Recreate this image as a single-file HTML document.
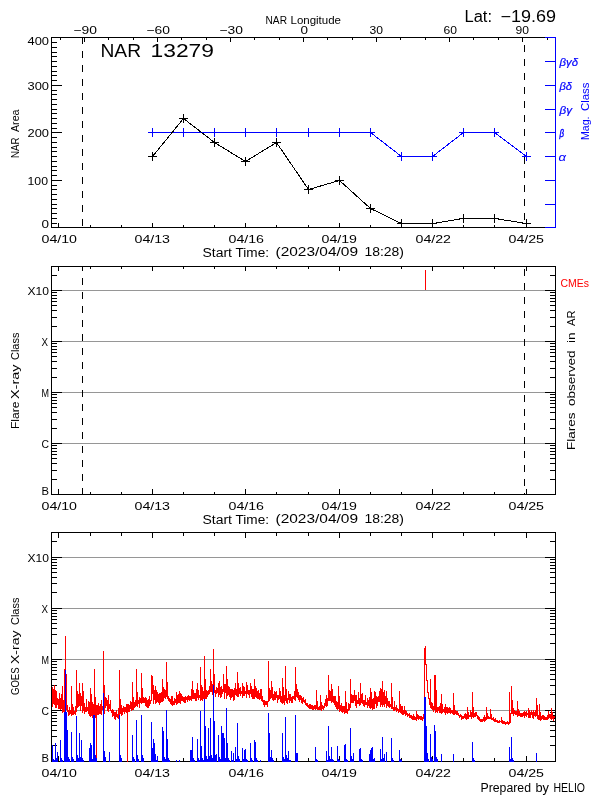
<!DOCTYPE html><html><head><meta charset="utf-8"><style>html,body{margin:0;padding:0;background:#fff;}svg{display:block}text{font-family:"Liberation Sans",Arial,sans-serif;}</style></head><body>
<svg width="600" height="800" viewBox="0 0 600 800">
<rect width="600" height="800" fill="#fff"/>
<path fill="#969696" shape-rendering="crispEdges" d="M62 443h483v1h-483zM62 392h483v1h-483zM62 341h483v1h-483zM62 290h483v1h-483zM62 710h483v1h-483zM62 659h483v1h-483zM62 608h483v1h-483zM62 557h483v1h-483z"/>
<path fill="#000" shape-rendering="crispEdges" d="M51 37h505v1h-505zM51 227h505v1h-505zM51 37h1v191h-1zM51 266h505v1h-505zM51 494h505v1h-505zM51 266h1v229h-1zM555 266h1v229h-1zM51 532h505v1h-505zM51 761h505v1h-505zM51 532h1v230h-1zM555 532h1v230h-1zM58 223h1v4h-1zM90 225h1v2h-1zM121 225h1v2h-1zM152 223h1v4h-1zM183 225h1v2h-1zM214 225h1v2h-1zM245 223h1v4h-1zM276 225h1v2h-1zM308 225h1v2h-1zM339 223h1v4h-1zM370 225h1v2h-1zM401 225h1v2h-1zM432 223h1v4h-1zM463 225h1v2h-1zM494 225h1v2h-1zM526 223h1v4h-1zM58 489h1v5h-1zM58 267h1v4h-1zM90 492h1v2h-1zM90 267h1v2h-1zM121 492h1v2h-1zM121 267h1v2h-1zM152 489h1v5h-1zM152 267h1v4h-1zM183 492h1v2h-1zM183 267h1v2h-1zM214 492h1v2h-1zM214 267h1v2h-1zM245 489h1v5h-1zM245 267h1v4h-1zM276 492h1v2h-1zM276 267h1v2h-1zM308 492h1v2h-1zM308 267h1v2h-1zM339 489h1v5h-1zM339 267h1v4h-1zM370 492h1v2h-1zM370 267h1v2h-1zM401 492h1v2h-1zM401 267h1v2h-1zM432 489h1v5h-1zM432 267h1v4h-1zM463 492h1v2h-1zM463 267h1v2h-1zM494 492h1v2h-1zM494 267h1v2h-1zM526 489h1v5h-1zM526 267h1v4h-1zM58 756h1v5h-1zM58 533h1v5h-1zM90 758h1v3h-1zM90 533h1v3h-1zM121 758h1v3h-1zM121 533h1v3h-1zM152 756h1v5h-1zM152 533h1v5h-1zM183 758h1v3h-1zM183 533h1v3h-1zM214 758h1v3h-1zM214 533h1v3h-1zM245 756h1v5h-1zM245 533h1v5h-1zM276 758h1v3h-1zM276 533h1v3h-1zM308 758h1v3h-1zM308 533h1v3h-1zM339 756h1v5h-1zM339 533h1v5h-1zM370 758h1v3h-1zM370 533h1v3h-1zM401 758h1v3h-1zM401 533h1v3h-1zM432 756h1v5h-1zM432 533h1v5h-1zM463 758h1v3h-1zM463 533h1v3h-1zM494 758h1v3h-1zM494 533h1v3h-1zM526 756h1v5h-1zM526 533h1v5h-1zM60 38h1v2h-1zM84 38h1v4h-1zM108 38h1v2h-1zM133 38h1v2h-1zM157 38h1v4h-1zM181 38h1v2h-1zM206 38h1v2h-1zM230 38h1v4h-1zM254 38h1v2h-1zM279 38h1v2h-1zM303 38h1v4h-1zM327 38h1v2h-1zM352 38h1v2h-1zM376 38h1v4h-1zM400 38h1v2h-1zM425 38h1v2h-1zM449 38h1v4h-1zM473 38h1v2h-1zM498 38h1v2h-1zM522 38h1v4h-1zM51 223h6v1h-6zM51 218h6v1h-6zM51 213h6v1h-6zM51 208h6v1h-6zM51 204h6v1h-6zM51 199h6v1h-6zM51 194h6v1h-6zM51 189h6v1h-6zM51 185h6v1h-6zM51 180h11v1h-11zM51 175h6v1h-6zM51 170h6v1h-6zM51 166h6v1h-6zM51 161h6v1h-6zM51 156h6v1h-6zM51 151h6v1h-6zM51 147h6v1h-6zM51 142h6v1h-6zM51 137h6v1h-6zM51 132h11v1h-11zM51 128h6v1h-6zM51 123h6v1h-6zM51 118h6v1h-6zM51 113h6v1h-6zM51 109h6v1h-6zM51 104h6v1h-6zM51 99h6v1h-6zM51 94h6v1h-6zM51 90h6v1h-6zM51 85h11v1h-11zM51 80h6v1h-6zM51 75h6v1h-6zM51 71h6v1h-6zM51 66h6v1h-6zM51 61h6v1h-6zM51 56h6v1h-6zM51 52h6v1h-6zM51 47h6v1h-6zM51 42h6v1h-6zM51 479h6v1h-6zM550 479h6v1h-6zM51 470h6v1h-6zM550 470h6v1h-6zM51 463h6v1h-6zM550 463h6v1h-6zM51 458h6v1h-6zM550 458h6v1h-6zM51 454h6v1h-6zM550 454h6v1h-6zM51 451h6v1h-6zM550 451h6v1h-6zM51 448h6v1h-6zM550 448h6v1h-6zM51 445h6v1h-6zM550 445h6v1h-6zM51 428h6v1h-6zM550 428h6v1h-6zM51 419h6v1h-6zM550 419h6v1h-6zM51 412h6v1h-6zM550 412h6v1h-6zM51 407h6v1h-6zM550 407h6v1h-6zM51 403h6v1h-6zM550 403h6v1h-6zM51 400h6v1h-6zM550 400h6v1h-6zM51 397h6v1h-6zM550 397h6v1h-6zM51 394h6v1h-6zM550 394h6v1h-6zM51 443h11v1h-11zM545 443h11v1h-11zM51 377h6v1h-6zM550 377h6v1h-6zM51 368h6v1h-6zM550 368h6v1h-6zM51 361h6v1h-6zM550 361h6v1h-6zM51 356h6v1h-6zM550 356h6v1h-6zM51 352h6v1h-6zM550 352h6v1h-6zM51 349h6v1h-6zM550 349h6v1h-6zM51 346h6v1h-6zM550 346h6v1h-6zM51 343h6v1h-6zM550 343h6v1h-6zM51 392h11v1h-11zM545 392h11v1h-11zM51 326h6v1h-6zM550 326h6v1h-6zM51 317h6v1h-6zM550 317h6v1h-6zM51 310h6v1h-6zM550 310h6v1h-6zM51 305h6v1h-6zM550 305h6v1h-6zM51 301h6v1h-6zM550 301h6v1h-6zM51 298h6v1h-6zM550 298h6v1h-6zM51 295h6v1h-6zM550 295h6v1h-6zM51 292h6v1h-6zM550 292h6v1h-6zM51 341h11v1h-11zM545 341h11v1h-11zM51 275h6v1h-6zM550 275h6v1h-6zM51 290h11v1h-11zM545 290h11v1h-11zM51 745h6v1h-6zM550 745h6v1h-6zM51 736h6v1h-6zM550 736h6v1h-6zM51 730h6v1h-6zM550 730h6v1h-6zM51 725h6v1h-6zM550 725h6v1h-6zM51 721h6v1h-6zM550 721h6v1h-6zM51 718h6v1h-6zM550 718h6v1h-6zM51 715h6v1h-6zM550 715h6v1h-6zM51 712h6v1h-6zM550 712h6v1h-6zM51 694h6v1h-6zM550 694h6v1h-6zM51 685h6v1h-6zM550 685h6v1h-6zM51 679h6v1h-6zM550 679h6v1h-6zM51 674h6v1h-6zM550 674h6v1h-6zM51 670h6v1h-6zM550 670h6v1h-6zM51 667h6v1h-6zM550 667h6v1h-6zM51 664h6v1h-6zM550 664h6v1h-6zM51 661h6v1h-6zM550 661h6v1h-6zM51 710h11v1h-11zM545 710h11v1h-11zM51 643h6v1h-6zM550 643h6v1h-6zM51 634h6v1h-6zM550 634h6v1h-6zM51 628h6v1h-6zM550 628h6v1h-6zM51 623h6v1h-6zM550 623h6v1h-6zM51 619h6v1h-6zM550 619h6v1h-6zM51 616h6v1h-6zM550 616h6v1h-6zM51 613h6v1h-6zM550 613h6v1h-6zM51 610h6v1h-6zM550 610h6v1h-6zM51 659h11v1h-11zM545 659h11v1h-11zM51 592h6v1h-6zM550 592h6v1h-6zM51 583h6v1h-6zM550 583h6v1h-6zM51 577h6v1h-6zM550 577h6v1h-6zM51 572h6v1h-6zM550 572h6v1h-6zM51 568h6v1h-6zM550 568h6v1h-6zM51 565h6v1h-6zM550 565h6v1h-6zM51 562h6v1h-6zM550 562h6v1h-6zM51 559h6v1h-6zM550 559h6v1h-6zM51 608h11v1h-11zM545 608h11v1h-11zM51 541h6v1h-6zM550 541h6v1h-6zM51 557h11v1h-11zM545 557h11v1h-11zM82 38h1v6h-1zM82 51h1v7h-1zM82 65h1v7h-1zM82 79h1v7h-1zM82 93h1v7h-1zM82 107h1v7h-1zM82 121h1v7h-1zM82 135h1v7h-1zM82 149h1v7h-1zM82 163h1v7h-1zM82 177h1v7h-1zM82 191h1v7h-1zM82 205h1v7h-1zM82 219h1v7h-1zM524 45h1v7h-1zM524 59h1v7h-1zM524 73h1v7h-1zM524 87h1v7h-1zM524 101h1v7h-1zM524 115h1v7h-1zM524 129h1v7h-1zM524 143h1v7h-1zM524 157h1v7h-1zM524 171h1v7h-1zM524 185h1v7h-1zM524 199h1v7h-1zM524 213h1v7h-1zM82 267h1v4h-1zM82 278h1v7h-1zM82 292h1v7h-1zM82 306h1v7h-1zM82 320h1v7h-1zM82 334h1v7h-1zM82 348h1v7h-1zM82 362h1v7h-1zM82 376h1v7h-1zM82 390h1v7h-1zM82 404h1v7h-1zM82 418h1v7h-1zM82 432h1v7h-1zM82 446h1v7h-1zM82 460h1v7h-1zM82 474h1v7h-1zM82 488h1v6h-1zM524 269h1v7h-1zM524 283h1v7h-1zM524 297h1v7h-1zM524 311h1v7h-1zM524 325h1v7h-1zM524 339h1v7h-1zM524 353h1v7h-1zM524 367h1v7h-1zM524 381h1v7h-1zM524 395h1v7h-1zM524 409h1v7h-1zM524 423h1v7h-1zM524 437h1v7h-1zM524 451h1v7h-1zM524 465h1v7h-1zM524 479h1v7h-1zM524 493h1v1h-1zM148 156h9v1h-9zM152 152h1v9h-1zM179 118h9v1h-9zM183 114h1v9h-1zM210 142h9v1h-9zM214 138h1v9h-1zM241 161h9v1h-9zM245 157h1v9h-1zM272 142h9v1h-9zM276 138h1v9h-1zM304 189h9v1h-9zM308 185h1v9h-1zM335 180h9v1h-9zM339 176h1v9h-1zM366 208h9v1h-9zM370 204h1v9h-1zM397 223h9v1h-9zM401 219h1v8h-1zM428 223h9v1h-9zM432 219h1v8h-1zM459 218h9v1h-9zM463 214h1v9h-1zM490 218h9v1h-9zM494 214h1v9h-1zM522 223h9v1h-9zM526 219h1v8h-1z"/>
<path fill="#ff0000" shape-rendering="crispEdges" d="M52 687h1v20h-1zM53 689h1v15h-1zM54 685h1v20h-1zM55 690h1v18h-1zM56 691h1v17h-1zM57 698h1v7h-1zM58 699h1v10h-1zM59 693h1v16h-1zM60 698h1v12h-1zM61 694h1v15h-1zM62 686h1v27h-1zM63 700h1v12h-1zM64 669h1v43h-1zM65 636h1v76h-1zM66 674h1v36h-1zM67 705h1v7h-1zM68 710h1v6h-1zM69 707h1v8h-1zM70 710h1v4h-1zM71 686h1v30h-1zM72 704h1v11h-1zM73 707h1v8h-1zM74 711h1v3h-1zM75 706h1v9h-1zM76 670h1v42h-1zM77 691h1v17h-1zM78 694h1v13h-1zM79 683h1v23h-1zM80 693h1v18h-1zM81 696h1v10h-1zM82 683h1v30h-1zM83 691h1v20h-1zM84 703h1v11h-1zM85 707h1v5h-1zM86 699h1v13h-1zM87 707h1v4h-1zM88 701h1v13h-1zM89 702h1v14h-1zM90 688h1v29h-1zM91 694h1v22h-1zM92 702h1v16h-1zM93 704h1v14h-1zM94 669h1v47h-1zM95 697h1v21h-1zM96 705h1v8h-1zM97 705h1v10h-1zM98 703h1v12h-1zM99 706h1v8h-1zM100 704h1v10h-1zM101 700h1v15h-1zM102 706h1v4h-1zM103 651h1v59h-1zM104 685h1v29h-1zM105 697h1v11h-1zM106 698h1v8h-1zM107 700h1v11h-1zM108 695h1v17h-1zM109 704h1v5h-1zM110 700h1v11h-1zM111 710h1v3h-1zM112 709h1v8h-1zM113 710h1v6h-1zM114 712h1v7h-1zM115 712h1v8h-1zM116 710h1v7h-1zM117 714h1v4h-1zM118 708h1v11h-1zM119 670h1v47h-1zM120 699h1v15h-1zM121 705h1v11h-1zM122 708h1v7h-1zM123 706h1v6h-1zM124 707h1v7h-1zM125 707h1v5h-1zM126 704h1v9h-1zM127 704h1v10h-1zM128 704h1v8h-1zM129 705h1v7h-1zM130 701h1v8h-1zM131 702h1v9h-1zM132 682h1v28h-1zM133 697h1v13h-1zM134 702h1v6h-1zM135 700h1v7h-1zM136 669h1v37h-1zM137 692h1v15h-1zM138 700h1v4h-1zM139 697h1v11h-1zM140 698h1v5h-1zM141 673h1v31h-1zM142 688h1v15h-1zM143 697h1v6h-1zM144 698h1v5h-1zM145 697h1v9h-1zM146 698h1v9h-1zM147 700h1v8h-1zM148 699h1v9h-1zM149 696h1v10h-1zM150 700h1v4h-1zM151 675h1v26h-1zM152 676h1v18h-1zM153 685h1v19h-1zM154 690h1v10h-1zM155 686h1v18h-1zM156 690h1v13h-1zM157 692h1v10h-1zM158 694h1v9h-1zM159 693h1v12h-1zM160 693h1v10h-1zM161 692h1v10h-1zM162 679h1v23h-1zM163 687h1v14h-1zM164 689h1v9h-1zM165 690h1v9h-1zM166 662h1v35h-1zM167 682h1v17h-1zM168 696h1v5h-1zM169 698h1v4h-1zM170 699h1v5h-1zM171 696h1v9h-1zM172 696h1v10h-1zM173 701h1v4h-1zM174 698h1v7h-1zM175 699h1v4h-1zM176 692h1v13h-1zM177 695h1v9h-1zM178 694h1v9h-1zM179 691h1v12h-1zM180 693h1v11h-1zM181 694h1v7h-1zM182 696h1v5h-1zM183 697h1v5h-1zM184 697h1v6h-1zM185 696h1v7h-1zM186 697h1v3h-1zM187 696h1v6h-1zM188 695h1v5h-1zM189 696h1v5h-1zM190 696h1v4h-1zM191 689h1v12h-1zM192 681h1v18h-1zM193 690h1v9h-1zM194 693h1v6h-1zM195 693h1v8h-1zM196 689h1v12h-1zM197 683h1v15h-1zM198 690h1v10h-1zM199 695h1v3h-1zM200 667h1v34h-1zM201 685h1v15h-1zM202 687h1v14h-1zM203 691h1v8h-1zM204 656h1v45h-1zM205 679h1v20h-1zM206 690h1v9h-1zM207 691h1v6h-1zM208 690h1v5h-1zM209 686h1v8h-1zM210 669h1v23h-1zM211 681h1v11h-1zM212 684h1v11h-1zM213 649h1v45h-1zM214 674h1v19h-1zM215 690h1v7h-1zM216 687h1v7h-1zM217 688h1v5h-1zM218 683h1v14h-1zM219 681h1v14h-1zM220 687h1v11h-1zM221 686h1v11h-1zM222 689h1v5h-1zM223 674h1v18h-1zM224 684h1v15h-1zM225 684h1v9h-1zM226 666h1v33h-1zM227 679h1v17h-1zM228 686h1v9h-1zM229 687h1v10h-1zM230 689h1v11h-1zM231 689h1v9h-1zM232 689h1v8h-1zM233 690h1v11h-1zM234 688h1v12h-1zM235 683h1v12h-1zM236 689h1v7h-1zM237 672h1v25h-1zM238 683h1v14h-1zM239 688h1v6h-1zM240 687h1v9h-1zM241 691h1v3h-1zM242 683h1v15h-1zM243 686h1v10h-1zM244 687h1v9h-1zM245 691h1v3h-1zM246 682h1v16h-1zM247 685h1v9h-1zM248 690h1v5h-1zM249 690h1v8h-1zM250 683h1v11h-1zM251 686h1v11h-1zM252 689h1v10h-1zM253 689h1v10h-1zM254 679h1v20h-1zM255 686h1v11h-1zM256 688h1v10h-1zM257 691h1v8h-1zM258 690h1v9h-1zM259 693h1v7h-1zM260 689h1v10h-1zM261 689h1v12h-1zM262 696h1v6h-1zM263 700h1v5h-1zM264 700h1v7h-1zM265 701h1v4h-1zM266 701h1v4h-1zM267 701h1v6h-1zM268 661h1v41h-1zM269 688h1v13h-1zM270 690h1v9h-1zM271 681h1v17h-1zM272 687h1v13h-1zM273 694h1v7h-1zM274 691h1v9h-1zM275 692h1v8h-1zM276 691h1v7h-1zM277 695h1v8h-1zM278 695h1v5h-1zM279 688h1v11h-1zM280 691h1v11h-1zM281 696h1v7h-1zM282 678h1v26h-1zM283 687h1v16h-1zM284 695h1v10h-1zM285 666h1v35h-1zM286 689h1v14h-1zM287 698h1v6h-1zM288 691h1v9h-1zM289 694h1v9h-1zM290 694h1v7h-1zM291 697h1v6h-1zM292 696h1v7h-1zM293 696h1v3h-1zM294 691h1v9h-1zM295 667h1v34h-1zM296 684h1v13h-1zM297 689h1v9h-1zM298 692h1v8h-1zM299 695h1v7h-1zM300 695h1v5h-1zM301 696h1v7h-1zM302 698h1v6h-1zM303 697h1v5h-1zM304 700h1v3h-1zM305 699h1v6h-1zM306 703h1v3h-1zM307 703h1v4h-1zM308 705h1v3h-1zM309 704h1v5h-1zM310 704h1v5h-1zM311 705h1v4h-1zM312 705h1v5h-1zM313 706h1v4h-1zM314 705h1v4h-1zM315 705h1v5h-1zM316 690h1v19h-1zM317 701h1v9h-1zM318 707h1v3h-1zM319 706h1v4h-1zM320 695h1v15h-1zM321 702h1v9h-1zM322 705h1v4h-1zM323 706h1v4h-1zM324 703h1v5h-1zM325 699h1v7h-1zM326 695h1v12h-1zM327 698h1v8h-1zM328 675h1v26h-1zM329 690h1v11h-1zM330 691h1v10h-1zM331 684h1v19h-1zM332 689h1v13h-1zM333 696h1v7h-1zM334 696h1v9h-1zM335 696h1v11h-1zM336 701h1v8h-1zM337 702h1v8h-1zM338 686h1v23h-1zM339 696h1v16h-1zM340 705h1v6h-1zM341 703h1v9h-1zM342 706h1v7h-1zM343 706h1v6h-1zM344 706h1v8h-1zM345 691h1v22h-1zM346 702h1v11h-1zM347 709h1v5h-1zM348 703h1v8h-1zM349 704h1v6h-1zM350 679h1v29h-1zM351 694h1v9h-1zM352 695h1v8h-1zM353 695h1v8h-1zM354 690h1v11h-1zM355 695h1v11h-1zM356 695h1v13h-1zM357 700h1v4h-1zM358 692h1v12h-1zM359 698h1v8h-1zM360 683h1v22h-1zM361 694h1v9h-1zM362 693h1v11h-1zM363 700h1v6h-1zM364 700h1v7h-1zM365 695h1v10h-1zM366 702h1v3h-1zM367 698h1v10h-1zM368 700h1v6h-1zM369 697h1v11h-1zM370 688h1v21h-1zM371 692h1v16h-1zM372 699h1v11h-1zM373 698h1v11h-1zM374 691h1v18h-1zM375 692h1v12h-1zM376 696h1v12h-1zM377 697h1v9h-1zM378 696h1v6h-1zM379 691h1v11h-1zM380 688h1v19h-1zM381 689h1v16h-1zM382 681h1v26h-1zM383 692h1v13h-1zM384 690h1v17h-1zM385 696h1v8h-1zM386 691h1v17h-1zM387 698h1v8h-1zM388 701h1v6h-1zM389 701h1v7h-1zM390 704h1v3h-1zM391 683h1v26h-1zM392 697h1v12h-1zM393 707h1v4h-1zM394 701h1v10h-1zM395 707h1v3h-1zM396 705h1v7h-1zM397 708h1v3h-1zM398 709h1v4h-1zM399 691h1v21h-1zM400 704h1v9h-1zM401 706h1v8h-1zM402 706h1v9h-1zM403 710h1v5h-1zM404 706h1v8h-1zM405 710h1v6h-1zM406 711h1v4h-1zM407 713h1v4h-1zM408 714h1v2h-1zM409 713h1v5h-1zM410 715h1v3h-1zM411 715h1v4h-1zM412 716h1v4h-1zM413 714h1v6h-1zM414 716h1v4h-1zM415 717h1v3h-1zM416 711h1v10h-1zM417 714h1v5h-1zM418 715h1v5h-1zM419 716h1v3h-1zM420 716h1v4h-1zM421 716h1v4h-1zM422 717h1v4h-1zM423 714h1v5h-1zM424 648h1v73h-1zM425 646h1v19h-1zM426 664h1v17h-1zM427 680h1v13h-1zM428 692h1v7h-1zM429 698h1v7h-1zM430 679h1v29h-1zM431 702h1v7h-1zM432 703h1v7h-1zM433 706h1v6h-1zM434 675h1v35h-1zM435 675h1v38h-1zM436 690h1v22h-1zM437 707h1v6h-1zM438 707h1v4h-1zM439 706h1v7h-1zM440 703h1v10h-1zM441 694h1v20h-1zM442 704h1v9h-1zM443 709h1v3h-1zM444 707h1v6h-1zM445 704h1v11h-1zM446 707h1v6h-1zM447 707h1v7h-1zM448 708h1v5h-1zM449 707h1v6h-1zM450 708h1v6h-1zM451 710h1v3h-1zM452 710h1v4h-1zM453 693h1v22h-1zM454 705h1v10h-1zM455 710h1v4h-1zM456 711h1v4h-1zM457 711h1v4h-1zM458 713h1v3h-1zM459 715h1v3h-1zM460 714h1v3h-1zM461 715h1v5h-1zM462 716h1v3h-1zM463 716h1v3h-1zM464 714h1v4h-1zM465 713h1v6h-1zM466 714h1v6h-1zM467 707h1v12h-1zM468 712h1v7h-1zM469 715h1v2h-1zM470 710h1v7h-1zM471 712h1v7h-1zM472 692h1v25h-1zM473 707h1v11h-1zM474 713h1v4h-1zM475 712h1v5h-1zM476 712h1v4h-1zM477 715h1v4h-1zM478 716h1v4h-1zM479 717h1v4h-1zM480 719h1v3h-1zM481 719h1v3h-1zM482 719h1v3h-1zM483 717h1v4h-1zM484 715h1v7h-1zM485 717h1v4h-1zM486 707h1v13h-1zM487 713h1v6h-1zM488 716h1v3h-1zM489 717h1v2h-1zM490 709h1v10h-1zM491 714h1v6h-1zM492 718h1v2h-1zM493 717h1v4h-1zM494 719h1v3h-1zM495 718h1v4h-1zM496 720h1v2h-1zM497 720h1v3h-1zM498 721h1v2h-1zM499 720h1v3h-1zM500 721h1v1h-1zM501 717h1v6h-1zM502 720h1v4h-1zM503 721h1v3h-1zM504 721h1v3h-1zM505 722h1v3h-1zM506 722h1v2h-1zM507 721h1v3h-1zM508 722h1v3h-1zM509 692h1v32h-1zM510 713h1v10h-1zM511 686h1v28h-1zM512 700h1v14h-1zM513 708h1v8h-1zM514 710h1v4h-1zM515 711h1v4h-1zM516 711h1v4h-1zM517 701h1v16h-1zM518 709h1v7h-1zM519 711h1v5h-1zM520 713h1v4h-1zM521 713h1v4h-1zM522 713h1v4h-1zM523 712h1v4h-1zM524 711h1v7h-1zM525 712h1v4h-1zM526 711h1v6h-1zM527 713h1v2h-1zM528 708h1v10h-1zM529 710h1v8h-1zM530 712h1v6h-1zM531 710h1v5h-1zM532 712h1v6h-1zM533 710h1v9h-1zM534 712h1v4h-1zM535 710h1v7h-1zM536 698h1v18h-1zM537 705h1v14h-1zM538 715h1v5h-1zM539 704h1v16h-1zM540 712h1v9h-1zM541 716h1v4h-1zM542 715h1v4h-1zM543 715h1v5h-1zM544 716h1v4h-1zM545 717h1v3h-1zM546 717h1v3h-1zM547 715h1v5h-1zM548 711h1v8h-1zM549 714h1v4h-1zM550 714h1v5h-1zM551 708h1v12h-1zM552 712h1v7h-1zM553 716h1v5h-1zM554 716h1v2h-1zM96 712h1v50h-1zM127 713h1v49h-1z"/>
<path fill="#0000ff" shape-rendering="crispEdges" d="M52 745h1v17h-1zM53 759h1v3h-1zM54 760h1v2h-1zM55 743h1v19h-1zM56 758h1v4h-1zM57 752h1v10h-1zM60 740h1v22h-1zM61 758h1v4h-1zM62 760h1v2h-1zM64 712h1v50h-1zM65 670h1v92h-1zM66 712h1v50h-1zM67 730h1v32h-1zM68 757h1v5h-1zM69 759h1v3h-1zM71 732h1v30h-1zM72 757h1v5h-1zM73 759h1v3h-1zM76 716h1v46h-1zM77 755h1v7h-1zM78 758h1v4h-1zM79 733h1v29h-1zM80 757h1v5h-1zM81 740h1v22h-1zM82 758h1v4h-1zM83 760h1v2h-1zM89 748h1v14h-1zM90 743h1v19h-1zM91 745h1v17h-1zM92 759h1v3h-1zM93 715h1v47h-1zM94 715h1v47h-1zM95 755h1v7h-1zM96 758h1v4h-1zM103 693h1v69h-1zM104 751h1v11h-1zM105 757h1v5h-1zM109 752h1v10h-1zM119 715h1v47h-1zM120 755h1v7h-1zM121 758h1v4h-1zM132 735h1v27h-1zM133 757h1v5h-1zM134 759h1v3h-1zM136 720h1v42h-1zM137 755h1v7h-1zM138 759h1v3h-1zM141 715h1v47h-1zM142 755h1v7h-1zM143 758h1v4h-1zM151 722h1v40h-1zM152 748h1v14h-1zM153 739h1v23h-1zM154 743h1v19h-1zM155 754h1v8h-1zM156 760h1v2h-1zM157 756h1v6h-1zM162 727h1v35h-1zM163 731h1v31h-1zM164 757h1v5h-1zM165 759h1v3h-1zM166 710h1v52h-1zM167 739h1v23h-1zM168 758h1v4h-1zM169 760h1v2h-1zM176 760h1v2h-1zM179 760h1v2h-1zM190 750h1v12h-1zM191 750h1v12h-1zM192 737h1v25h-1zM193 758h1v4h-1zM194 760h1v2h-1zM197 739h1v23h-1zM198 758h1v4h-1zM199 760h1v2h-1zM200 711h1v51h-1zM201 746h1v16h-1zM202 758h1v4h-1zM203 760h1v2h-1zM204 699h1v63h-1zM205 726h1v36h-1zM206 756h1v6h-1zM207 759h1v3h-1zM208 728h1v34h-1zM209 756h1v6h-1zM210 718h1v44h-1zM211 755h1v7h-1zM212 758h1v4h-1zM213 685h1v77h-1zM214 721h1v41h-1zM215 755h1v7h-1zM216 754h1v8h-1zM218 735h1v27h-1zM219 757h1v5h-1zM220 759h1v3h-1zM221 726h1v36h-1zM222 733h1v29h-1zM223 733h1v29h-1zM224 738h1v24h-1zM225 758h1v4h-1zM226 708h1v54h-1zM227 743h1v19h-1zM228 758h1v4h-1zM229 760h1v2h-1zM231 751h1v11h-1zM232 760h1v2h-1zM233 753h1v9h-1zM235 747h1v15h-1zM236 759h1v3h-1zM237 723h1v39h-1zM238 756h1v6h-1zM239 759h1v3h-1zM242 748h1v14h-1zM243 759h1v3h-1zM244 750h1v12h-1zM245 749h1v13h-1zM246 759h1v3h-1zM247 760h1v2h-1zM250 743h1v19h-1zM251 758h1v4h-1zM252 760h1v2h-1zM254 740h1v22h-1zM255 742h1v20h-1zM256 758h1v4h-1zM257 760h1v2h-1zM260 760h1v2h-1zM268 713h1v49h-1zM269 733h1v29h-1zM270 757h1v5h-1zM271 750h1v12h-1zM272 758h1v4h-1zM273 760h1v2h-1zM282 733h1v29h-1zM283 757h1v5h-1zM284 759h1v3h-1zM285 717h1v45h-1zM286 755h1v7h-1zM287 758h1v4h-1zM288 751h1v11h-1zM289 760h1v2h-1zM290 760h1v2h-1zM295 715h1v47h-1zM296 753h1v9h-1zM297 753h1v9h-1zM315 747h1v15h-1zM316 759h1v3h-1zM317 760h1v2h-1zM326 751h1v11h-1zM327 760h1v2h-1zM328 726h1v36h-1zM329 756h1v6h-1zM330 759h1v3h-1zM331 747h1v15h-1zM332 759h1v3h-1zM333 760h1v2h-1zM337 746h1v16h-1zM338 759h1v3h-1zM339 760h1v2h-1zM344 745h1v17h-1zM345 744h1v18h-1zM346 759h1v3h-1zM347 760h1v2h-1zM350 728h1v34h-1zM351 756h1v6h-1zM352 759h1v3h-1zM353 753h1v9h-1zM359 749h1v13h-1zM360 748h1v14h-1zM361 759h1v3h-1zM362 760h1v2h-1zM369 754h1v8h-1zM370 750h1v12h-1zM371 748h1v14h-1zM372 747h1v15h-1zM373 759h1v3h-1zM374 758h1v4h-1zM380 749h1v13h-1zM381 759h1v3h-1zM382 737h1v25h-1zM383 758h1v4h-1zM384 754h1v8h-1zM386 752h1v10h-1zM391 738h1v24h-1zM392 758h1v4h-1zM393 760h1v2h-1zM399 750h1v12h-1zM400 759h1v3h-1zM401 760h1v2h-1zM424 697h1v65h-1zM425 697h1v65h-1zM426 726h1v36h-1zM427 753h1v9h-1zM428 759h1v3h-1zM430 734h1v28h-1zM431 757h1v5h-1zM432 759h1v3h-1zM434 725h1v37h-1zM435 731h1v31h-1zM436 757h1v5h-1zM437 759h1v3h-1zM441 754h1v8h-1zM453 754h1v8h-1zM472 742h1v20h-1zM473 758h1v4h-1zM474 760h1v2h-1zM509 747h1v15h-1zM510 759h1v3h-1zM511 737h1v25h-1zM512 758h1v4h-1zM513 760h1v2h-1zM536 753h1v9h-1z"/>
<polyline fill="none" stroke="#0000ff" stroke-width="1" shape-rendering="crispEdges" points="152.5,132.5 183.5,132.5 214.5,132.5 245.5,132.5 276.5,132.5 308.5,132.5 339.5,132.5 370.5,132.5 401.5,156.5 432.5,156.5 463.5,132.5 494.5,132.5 526.5,156.5"/>
<polyline fill="none" stroke="#000" stroke-width="1" shape-rendering="crispEdges" points="152.5,156.5 183.5,118.5 214.5,142.5 245.5,161.5 276.5,142.5 308.5,189.5 339.5,180.5 370.5,208.5 401.5,223.5 432.5,223.5 463.5,218.5 494.5,218.5 526.5,223.5"/>
<path fill="#0000ff" shape-rendering="crispEdges" d="M555 37h1v191h-1zM545 37h11v1h-11zM545 61h11v1h-11zM545 85h11v1h-11zM545 109h11v1h-11zM545 132h11v1h-11zM545 156h11v1h-11zM545 180h11v1h-11zM545 204h11v1h-11zM545 227h11v1h-11zM148 132h9v1h-9zM152 128h1v9h-1zM179 132h9v1h-9zM183 128h1v9h-1zM210 132h9v1h-9zM214 128h1v9h-1zM241 132h9v1h-9zM245 128h1v9h-1zM272 132h9v1h-9zM276 128h1v9h-1zM304 132h9v1h-9zM308 128h1v9h-1zM335 132h9v1h-9zM339 128h1v9h-1zM366 132h9v1h-9zM370 128h1v9h-1zM397 156h9v1h-9zM401 152h1v9h-1zM428 156h9v1h-9zM432 152h1v9h-1zM459 132h9v1h-9zM463 128h1v9h-1zM490 132h9v1h-9zM494 128h1v9h-1zM522 156h9v1h-9zM526 152h1v9h-1z"/>
<path fill="#ff0000" shape-rendering="crispEdges" d="M425 270h1v20h-1z"/>
<path fill="#000" shape-rendering="crispEdges" d="M547 38h1v2h-1z"/>
<text x="265.5" y="24.42" font-size="11" fill="#000" textLength="21.5" lengthAdjust="spacingAndGlyphs">NAR</text>
<text x="290.5" y="24.42" font-size="11" fill="#000" textLength="50.5" lengthAdjust="spacingAndGlyphs">Longitude</text>
<text x="464.5" y="22.02" font-size="16" fill="#000" textLength="27.5" lengthAdjust="spacingAndGlyphs">Lat:</text>
<text x="500.5" y="22.02" font-size="16" fill="#000" textLength="55.5" lengthAdjust="spacingAndGlyphs">−19.69</text>
<text x="73.5" y="34.42" font-size="11" fill="#000" textLength="23.5" lengthAdjust="spacingAndGlyphs">−90</text>
<text x="146.5" y="34.42" font-size="11" fill="#000" textLength="23.5" lengthAdjust="spacingAndGlyphs">−60</text>
<text x="219.5" y="34.42" font-size="11" fill="#000" textLength="23.5" lengthAdjust="spacingAndGlyphs">−30</text>
<text x="300.5" y="34.42" font-size="11" fill="#000" textLength="7.5" lengthAdjust="spacingAndGlyphs">0</text>
<text x="369.5" y="34.42" font-size="11" fill="#000" textLength="13.5" lengthAdjust="spacingAndGlyphs">30</text>
<text x="443.5" y="34.42" font-size="11" fill="#000" textLength="13.5" lengthAdjust="spacingAndGlyphs">60</text>
<text x="515.5" y="34.42" font-size="11" fill="#000" textLength="13.5" lengthAdjust="spacingAndGlyphs">90</text>
<text x="100.5" y="57.18" font-size="19" fill="#000" textLength="40.5" lengthAdjust="spacingAndGlyphs">NAR</text>
<text x="150.5" y="57.18" font-size="19" fill="#000" textLength="63.5" lengthAdjust="spacingAndGlyphs">13279</text>
<text x="27.5" y="45.42" font-size="11" fill="#000" textLength="21.5" lengthAdjust="spacingAndGlyphs">400</text>
<text x="27.5" y="90.42" font-size="11" fill="#000" textLength="21.5" lengthAdjust="spacingAndGlyphs">300</text>
<text x="27.5" y="137.42" font-size="11" fill="#000" textLength="21.5" lengthAdjust="spacingAndGlyphs">200</text>
<text x="27.5" y="185.42" font-size="11" fill="#000" textLength="20.5" lengthAdjust="spacingAndGlyphs">100</text>
<text x="41.5" y="228.42" font-size="11" fill="#000" textLength="7.5" lengthAdjust="spacingAndGlyphs">0</text>
<text x="19.42" y="158" font-size="11" fill="#000" textLength="20.5" lengthAdjust="spacingAndGlyphs" transform="rotate(-90 19.42 158)">NAR</text>
<text x="19.42" y="132" font-size="11" fill="#000" textLength="22.5" lengthAdjust="spacingAndGlyphs" transform="rotate(-90 19.42 132)">Area</text>
<text x="202.5" y="257.14" font-size="12" fill="#000" textLength="29.5" lengthAdjust="spacingAndGlyphs">Start</text>
<text x="235.5" y="257.14" font-size="12" fill="#000" textLength="33.5" lengthAdjust="spacingAndGlyphs">Time:</text>
<text x="275.5" y="256.14" font-size="12" fill="#000" textLength="82.5" lengthAdjust="spacingAndGlyphs">(2023/04/09</text>
<text x="364.5" y="256.14" font-size="12" fill="#000" textLength="39.5" lengthAdjust="spacingAndGlyphs">18:28)</text>
<text x="202.5" y="524.14" font-size="12" fill="#000" textLength="29.5" lengthAdjust="spacingAndGlyphs">Start</text>
<text x="235.5" y="524.14" font-size="12" fill="#000" textLength="33.5" lengthAdjust="spacingAndGlyphs">Time:</text>
<text x="275.5" y="523.14" font-size="12" fill="#000" textLength="82.5" lengthAdjust="spacingAndGlyphs">(2023/04/09</text>
<text x="364.5" y="523.14" font-size="12" fill="#000" textLength="39.5" lengthAdjust="spacingAndGlyphs">18:28)</text>
<text x="559.5" y="66.42" font-size="11" fill="#0000ff" textLength="18.5" lengthAdjust="spacingAndGlyphs" font-style="italic" stroke="#0000ff" stroke-width="0.2">βγδ</text>
<text x="559.5" y="90.42" font-size="11" fill="#0000ff" textLength="12.5" lengthAdjust="spacingAndGlyphs" font-style="italic" stroke="#0000ff" stroke-width="0.2">βδ</text>
<text x="559.5" y="114.42" font-size="11" fill="#0000ff" textLength="12.5" lengthAdjust="spacingAndGlyphs" font-style="italic" stroke="#0000ff" stroke-width="0.2">βγ</text>
<text x="559.5" y="137.42" font-size="11" fill="#0000ff" textLength="4.5" lengthAdjust="spacingAndGlyphs" font-style="italic" stroke="#0000ff" stroke-width="0.45">β</text>
<text x="558.5" y="161.42" font-size="11" fill="#0000ff" textLength="7.5" lengthAdjust="spacingAndGlyphs" font-style="italic">α</text>
<text x="589.42" y="140" font-size="11" fill="#0000ff" textLength="23.5" lengthAdjust="spacingAndGlyphs" transform="rotate(-90 589.42 140)">Mag.</text>
<text x="589.42" y="111" font-size="11" fill="#0000ff" textLength="28.5" lengthAdjust="spacingAndGlyphs" transform="rotate(-90 589.42 111)">Class</text>
<text x="19.42" y="429" font-size="11" fill="#000" textLength="27.5" lengthAdjust="spacingAndGlyphs" transform="rotate(-90 19.42 429)">Flare</text>
<text x="19.42" y="399" font-size="11" fill="#000" textLength="34.5" lengthAdjust="spacingAndGlyphs" transform="rotate(-90 19.42 399)">X-ray</text>
<text x="19.42" y="360" font-size="11" fill="#000" textLength="27.5" lengthAdjust="spacingAndGlyphs" transform="rotate(-90 19.42 360)">Class</text>
<text x="575.42" y="450" font-size="11" fill="#000" textLength="37.5" lengthAdjust="spacingAndGlyphs" transform="rotate(-90 575.42 450)">Flares</text>
<text x="575.42" y="406" font-size="11" fill="#000" textLength="55.5" lengthAdjust="spacingAndGlyphs" transform="rotate(-90 575.42 406)">observed</text>
<text x="575.42" y="343" font-size="11" fill="#000" textLength="10.5" lengthAdjust="spacingAndGlyphs" transform="rotate(-90 575.42 343)">in</text>
<text x="575.42" y="326" font-size="11" fill="#000" textLength="15.5" lengthAdjust="spacingAndGlyphs" transform="rotate(-90 575.42 326)">AR</text>
<text x="560.5" y="287.42" font-size="11" fill="#ff0000" textLength="28.5" lengthAdjust="spacingAndGlyphs">CMEs</text>
<text x="19.42" y="695" font-size="11" fill="#000" textLength="27.5" lengthAdjust="spacingAndGlyphs" transform="rotate(-90 19.42 695)">GOES</text>
<text x="19.42" y="664" font-size="11" fill="#000" textLength="33.5" lengthAdjust="spacingAndGlyphs" transform="rotate(-90 19.42 664)">X-ray</text>
<text x="19.42" y="625" font-size="11" fill="#000" textLength="27.5" lengthAdjust="spacingAndGlyphs" transform="rotate(-90 19.42 625)">Class</text>
<text x="480.5" y="792.14" font-size="12" fill="#000" textLength="50.5" lengthAdjust="spacingAndGlyphs">Prepared</text>
<text x="535.5" y="792.14" font-size="12" fill="#000" textLength="13.5" lengthAdjust="spacingAndGlyphs">by</text>
<text x="553.5" y="792.14" font-size="12" fill="#000" textLength="31.5" lengthAdjust="spacingAndGlyphs">HELIO</text>
<text x="41.5" y="243.42" font-size="11" fill="#000" textLength="35.5" lengthAdjust="spacingAndGlyphs">04/10</text>
<text x="134.5" y="243.42" font-size="11" fill="#000" textLength="35.5" lengthAdjust="spacingAndGlyphs">04/13</text>
<text x="228.5" y="243.42" font-size="11" fill="#000" textLength="35.5" lengthAdjust="spacingAndGlyphs">04/16</text>
<text x="321.5" y="243.42" font-size="11" fill="#000" textLength="35.5" lengthAdjust="spacingAndGlyphs">04/19</text>
<text x="415.5" y="243.42" font-size="11" fill="#000" textLength="35.5" lengthAdjust="spacingAndGlyphs">04/22</text>
<text x="508.5" y="243.42" font-size="11" fill="#000" textLength="35.5" lengthAdjust="spacingAndGlyphs">04/25</text>
<text x="41.5" y="510.42" font-size="11" fill="#000" textLength="35.5" lengthAdjust="spacingAndGlyphs">04/10</text>
<text x="134.5" y="510.42" font-size="11" fill="#000" textLength="35.5" lengthAdjust="spacingAndGlyphs">04/13</text>
<text x="228.5" y="510.42" font-size="11" fill="#000" textLength="35.5" lengthAdjust="spacingAndGlyphs">04/16</text>
<text x="321.5" y="510.42" font-size="11" fill="#000" textLength="35.5" lengthAdjust="spacingAndGlyphs">04/19</text>
<text x="415.5" y="510.42" font-size="11" fill="#000" textLength="35.5" lengthAdjust="spacingAndGlyphs">04/22</text>
<text x="508.5" y="510.42" font-size="11" fill="#000" textLength="35.5" lengthAdjust="spacingAndGlyphs">04/25</text>
<text x="41.5" y="777.42" font-size="11" fill="#000" textLength="35.5" lengthAdjust="spacingAndGlyphs">04/10</text>
<text x="134.5" y="777.42" font-size="11" fill="#000" textLength="35.5" lengthAdjust="spacingAndGlyphs">04/13</text>
<text x="228.5" y="777.42" font-size="11" fill="#000" textLength="35.5" lengthAdjust="spacingAndGlyphs">04/16</text>
<text x="321.5" y="777.42" font-size="11" fill="#000" textLength="35.5" lengthAdjust="spacingAndGlyphs">04/19</text>
<text x="415.5" y="777.42" font-size="11" fill="#000" textLength="35.5" lengthAdjust="spacingAndGlyphs">04/22</text>
<text x="508.5" y="777.42" font-size="11" fill="#000" textLength="35.5" lengthAdjust="spacingAndGlyphs">04/25</text>
<text x="27.5" y="295.42" font-size="11" fill="#000" textLength="21.5" lengthAdjust="spacingAndGlyphs">X10</text>
<text x="41.5" y="346.42" font-size="11" fill="#000" textLength="6.5" lengthAdjust="spacingAndGlyphs">X</text>
<text x="41.5" y="397.42" font-size="11" fill="#000" textLength="7.5" lengthAdjust="spacingAndGlyphs">M</text>
<text x="41.5" y="448.42" font-size="11" fill="#000" textLength="7.5" lengthAdjust="spacingAndGlyphs">C</text>
<text x="41.5" y="495.42" font-size="11" fill="#000" textLength="7.5" lengthAdjust="spacingAndGlyphs">B</text>
<text x="27.5" y="562.42" font-size="11" fill="#000" textLength="21.5" lengthAdjust="spacingAndGlyphs">X10</text>
<text x="41.5" y="613.42" font-size="11" fill="#000" textLength="6.5" lengthAdjust="spacingAndGlyphs">X</text>
<text x="41.5" y="664.42" font-size="11" fill="#000" textLength="7.5" lengthAdjust="spacingAndGlyphs">M</text>
<text x="41.5" y="715.42" font-size="11" fill="#000" textLength="7.5" lengthAdjust="spacingAndGlyphs">C</text>
<text x="41.5" y="762.42" font-size="11" fill="#000" textLength="7.5" lengthAdjust="spacingAndGlyphs">B</text>
</svg></body></html>
